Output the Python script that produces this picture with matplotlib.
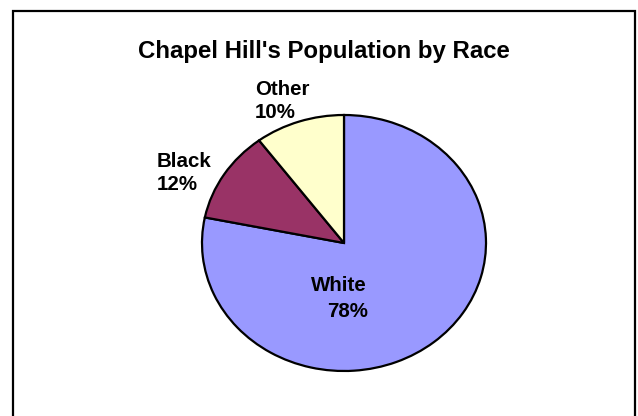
import matplotlib
matplotlib.use("Agg")
import matplotlib.pyplot as plt
from matplotlib.patches import Rectangle

W, H = 638, 416
title = "Chapel Hill's Population by Race"
categories = ["White", "Black", "Other"]
values = [78.2, 11.6, 10.2]
colors = ["#9999FF", "#993366", "#FFFFCC"]

plt.rcParams['font.family'] = ['Liberation Sans', 'DejaVu Sans']
fig = plt.figure(figsize=(W / 100, H / 100), dpi=100)

def px(x, y):
    return x / W, 1 - y / H

# outer border (bottom edge off-canvas)
fig.patches.append(Rectangle(px(12.5, 430), (634.5 - 12.5) / W, (430 - 10.5) / H,
                             transform=fig.transFigure, fill=False,
                             edgecolor="#000000", linewidth=1.6, zorder=0))

# pie axes (elliptical pie)
cx0, cy0, cx1, cy1 = 202, 115, 486, 371
ax = fig.add_axes([cx0 / W, 1 - cy1 / H, (cx1 - cx0) / W, (cy1 - cy0) / H])
wedges, _ = ax.pie(values, colors=colors, startangle=90, counterclock=False,
                   wedgeprops=dict(edgecolor="black", linewidth=1.6))
ax.set_aspect('auto')
ax.set_xlim(-1, 1)
ax.set_ylim(-1, 1)
ax.axis('off')
for w in wedges:
    w.set_clip_on(False)

fig.text(*px(324, 58), title, ha='center', va='baseline',
         fontsize=17.3, fontweight='bold')

tot = sum(values)
pct = [f"{v / tot * 100:.0f}%" for v in values]
# label positions (left x, baseline y of first and second line), in pixels
lab_pos = [((311, 291), (327, 317)), ((157, 167), (157, 190)), ((255, 95), (255, 118))]
for name, p, (l1, l2) in zip(categories, pct, lab_pos):
    fig.text(*px(*l1), name, ha='left', va='baseline', fontsize=14.8, fontweight='bold')
    fig.text(*px(*l2), p, ha='left', va='baseline', fontsize=14.8, fontweight='bold')

fig.savefig("out.png", dpi=100, facecolor="white")
